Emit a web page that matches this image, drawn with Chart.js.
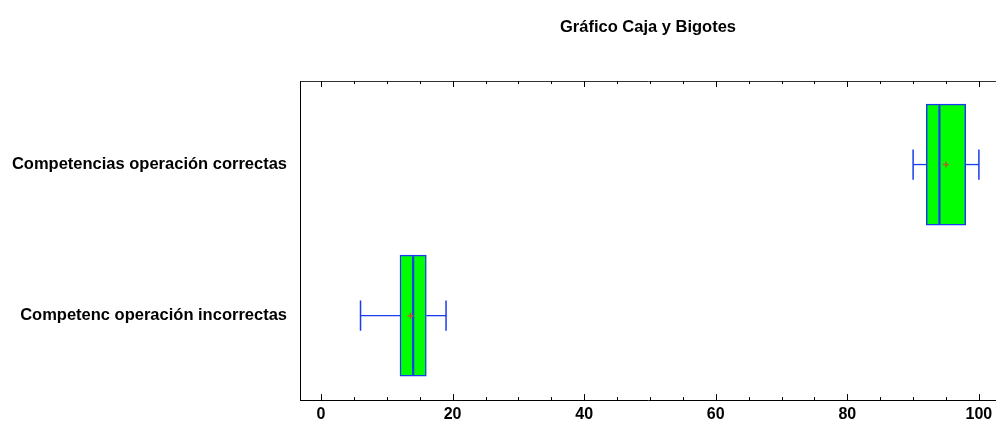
<!DOCTYPE html>
<html>
<head>
<meta charset="utf-8">
<script src="https://cdn.jsdelivr.net/npm/chart.js@4/dist/chart.umd.min.js"></script>
<style>
html,body{margin:0;padding:0;background:#fff;overflow:hidden;}
canvas{display:block;}
</style>
</head>
<body>
<canvas id="c" width="996" height="423" style="width:996px;height:423px"></canvas>
<script>
// ---- data ----
const categories = ["Competencias operación correctas", "Competenc operación incorrectas"];
const mins    = [90, 6];
const q1s     = [92, 12];
const medians = [94, 14];
const q3s     = [98, 16];
const maxs    = [100, 19];
const means   = [95, 13.6];
const xTickLabels = [0, 20, 40, 60, 80, 100];

const BLUE = '#1a3cf0';
const FONT = "'Liberation Sans', Arial, sans-serif";
const CAP = 0.1;      // half height of whisker caps (category units)
const BOXH = 121;     // box thickness in px

const datasets = [];
datasets.push({
  type: 'bar',
  label: 'box',
  data: categories.map((c, i) => ({ x: [q1s[i], q3s[i]], y: i })),
  backgroundColor: '#00ff00',
  borderColor: BLUE,
  borderWidth: 1.5,
  borderSkipped: false,
  barThickness: BOXH,
  order: 10
});
function seg(points, width) {
  datasets.push({
    type: 'scatter', showLine: true, data: points,
    borderColor: BLUE, borderWidth: width, pointRadius: 0, order: 1
  });
}
categories.forEach((c, i) => {
  seg([{x: mins[i], y: i}, {x: q1s[i], y: i}], 1.3);
  seg([{x: q3s[i], y: i}, {x: maxs[i], y: i}], 1.3);
  seg([{x: mins[i], y: i - CAP}, {x: mins[i], y: i + CAP}], 1.5);
  seg([{x: maxs[i], y: i - CAP}, {x: maxs[i], y: i + CAP}], 1.5);
  seg([{x: medians[i], y: i - 0.393}, {x: medians[i], y: i + 0.393}], 2.2);
});
datasets.push({
  type: 'scatter',
  data: categories.map((c, i) => ({ x: means[i], y: i })),
  pointStyle: 'cross', pointRadius: 3, borderWidth: 1.5,
  borderColor: '#b0602a', backgroundColor: '#b0602a', order: 0
});

const tickMarks = {
  id: 'tickMarks',
  afterDatasetsDraw(chart) {
    const ctx = chart.ctx, x = chart.scales.x, a = chart.chartArea;
    ctx.save();
    ctx.strokeStyle = '#000';
    ctx.lineWidth = 1;
    for (let v = 0; v <= 100; v += 5) {
      const px = Math.round(x.getPixelForValue(v)) + 0.5;
      const major = xTickLabels.includes(v);
      const len = major ? 6 : 3;
      ctx.beginPath();
      ctx.moveTo(px, a.bottom); ctx.lineTo(px, a.bottom - len);
      ctx.moveTo(px, a.top); ctx.lineTo(px, a.top + len);
      ctx.stroke();
    }
    ctx.restore();
  }
};

function noPad(s) { s.paddingLeft = 0; s.paddingRight = 0; }

new Chart(document.getElementById('c'), {
  type: 'bar',
  data: { datasets },
  options: {
    indexAxis: 'y',
    responsive: false,
    maintainAspectRatio: false,
    devicePixelRatio: 1,
    animation: false,
    layout: { autoPadding: false, padding: { left: 0, right: 0, top: 0, bottom: 0 } },
    plugins: {
      legend: { display: false },
      tooltip: { enabled: false },
      title: {
        display: true,
        text: 'Gráfico Caja y Bigotes',
        fullSize: false,
        color: '#000',
        font: { family: FONT, size: 16.5, weight: 'bold', lineHeight: 1.2 },
        padding: { top: 18, bottom: 43.2 }
      }
    },
    scales: {
      x: {
        type: 'linear', position: 'bottom',
        min: -3.2, max: 102.6, offset: false,
        grid: { display: false, drawTicks: false },
        border: { display: true, color: '#000', width: 1 },
        afterBuildTicks(s) { s.ticks = xTickLabels.map(v => ({ value: v })); },
        afterFit(s) { s.height = 21; noPad(s); },
        ticks: { padding: 5, color: '#000', font: { family: FONT, size: 16, weight: 'bold' } }
      },
      x2: {
        type: 'linear', position: 'top', axis: 'x',
        min: -3.2, max: 102.6, offset: false,
        grid: { display: false, drawTicks: false },
        border: { display: true, color: '#333', width: 1 },
        ticks: { display: false },
        afterFit(s) { s.height = 0; noPad(s); }
      },
      y: {
        type: 'linear', reverse: true, offset: false,
        min: -0.553, max: 1.559,
        grid: { display: false, drawTicks: false },
        border: { display: true, color: '#000', width: 1 },
        afterBuildTicks(s) { s.ticks = categories.map((c, i) => ({ value: i })); },
        afterFit(s) { s.width = 300; },
        ticks: {
          padding: 13, color: '#000',
          font: { family: FONT, size: 16.5, weight: 'bold' },
          callback: (v) => categories[v] !== undefined ? categories[v] : ''
        }
      }
    }
  },
  plugins: [tickMarks]
});
</script>
</body>
</html>
